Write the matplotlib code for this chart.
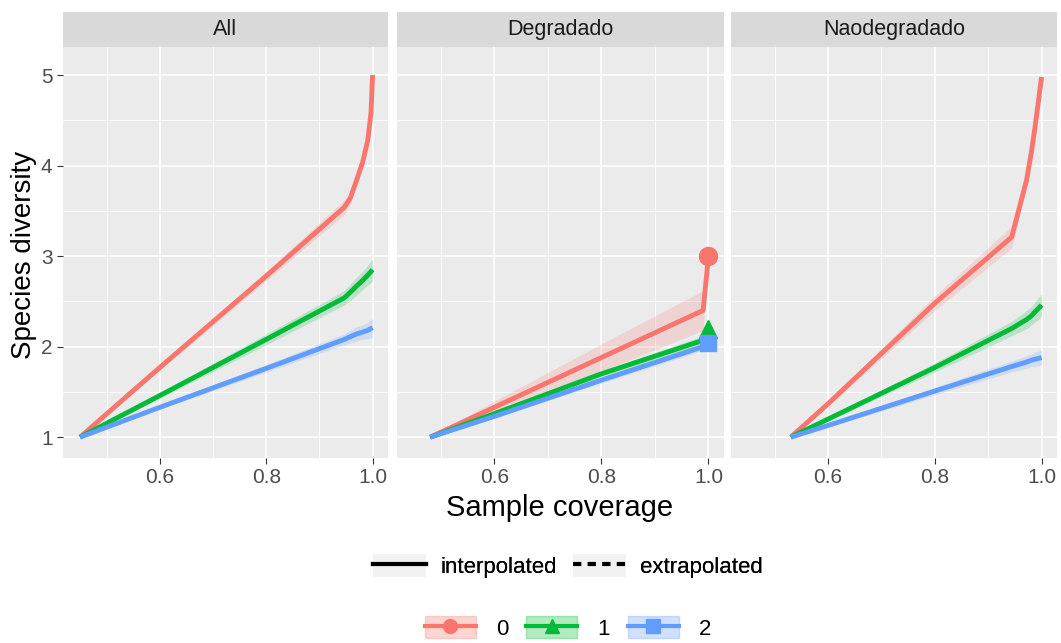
import matplotlib
matplotlib.use("Agg")
import matplotlib.pyplot as plt
from matplotlib.lines import Line2D
from matplotlib.patches import Patch

plt.rcParams['font.family'] = ['Liberation Sans', 'DejaVu Sans']

panels = ["All", "Degradado", "Naodegradado"]
orders = ["0", "1", "2"]
colors = ["#F8766D", "#00BA38", "#619CFF"]
marker_styles = ["o", "^", "s"]

# coverage values per panel
x_all = [0.45, 0.60, 0.80, 0.947, 0.958, 0.970, 0.981, 0.991, 0.997, 1.0]
x_deg = [0.48, 0.60, 0.80, 0.99, 1.0]
x_nao = [0.53, 0.60, 0.80, 0.944, 0.972, 0.981, 0.987, 0.994, 1.0]

# diversity estimates (order 0, 1, 2)
all_q0 = [1.0, 1.77, 2.78, 3.54, 3.64, 3.84, 4.03, 4.28, 4.58, 5.0]
all_q1 = [1.0, 1.46, 2.08, 2.54, 2.60, 2.67, 2.73, 2.79, 2.83, 2.85]
all_q2 = [1.0, 1.33, 1.76, 2.08, 2.11, 2.14, 2.16, 2.18, 2.20, 2.21]
deg_q0 = [1.0, 1.33, 1.88, 2.40, 3.0]
deg_q1 = [1.0, 1.26, 1.70, 2.07, 2.2]
deg_q2 = [1.0, 1.23, 1.63, 2.00, 2.04]
nao_q0 = [1.0, 1.37, 2.48, 3.21, 3.84, 4.15, 4.39, 4.70, 4.98]
nao_q1 = [1.0, 1.20, 1.77, 2.20, 2.30, 2.34, 2.38, 2.42, 2.46]
nao_q2 = [1.0, 1.13, 1.51, 1.78, 1.83, 1.85, 1.86, 1.87, 1.88]

# half widths of confidence bands
all_ci0 = [0.0, 0.03, 0.05, 0.08, 0.06, 0.05, 0.04, 0.03, 0.03, 0.02]
all_ci1 = [0.0, 0.03, 0.06, 0.08, 0.09, 0.10, 0.10, 0.11, 0.12, 0.12]
all_ci2 = [0.0, 0.02, 0.04, 0.06, 0.07, 0.08, 0.08, 0.09, 0.10, 0.10]
deg_ci0 = [0.0, 0.07, 0.15, 0.22, 0.0]
deg_ci1 = [0.0, 0.02, 0.03, 0.05, 0.0]
deg_ci2 = [0.0, 0.02, 0.03, 0.04, 0.0]
nao_ci0 = [0.0, 0.03, 0.08, 0.12, 0.06, 0.05, 0.04, 0.03, 0.03]
nao_ci1 = [0.0, 0.02, 0.05, 0.08, 0.10, 0.10, 0.11, 0.12, 0.12]
nao_ci2 = [0.0, 0.02, 0.04, 0.06, 0.07, 0.07, 0.08, 0.08, 0.08]

data = {
    "All": (x_all, [all_q0, all_q1, all_q2], [all_ci0, all_ci1, all_ci2]),
    "Degradado": (x_deg, [deg_q0, deg_q1, deg_q2], [deg_ci0, deg_ci1, deg_ci2]),
    "Naodegradado": (x_nao, [nao_q0, nao_q1, nao_q2], [nao_ci0, nao_ci1, nao_ci2]),
}

W, H = 1061, 643
fig = plt.figure(figsize=(W / 100, H / 100), dpi=100)

# panel extents in pixels: left, right
boxes = [(63, 388), (397, 724), (731, 1057)]
top, bottom, strip_top = 47, 458, 12

for i, name in enumerate(panels):
    l, r = boxes[i]
    ax = fig.add_axes([l / W, (H - bottom) / H, (r - l) / W, (bottom - top) / H])
    ax.set_facecolor("#EBEBEB")
    for s in ax.spines.values():
        s.set_visible(False)
    ax.set_xlim(0.418, 1.029)
    ax.set_ylim(0.77, 5.31)
    ax.set_xticks([0.6, 0.8, 1.0])
    ax.set_xticklabels(["0.6", "0.8", "1.0"])
    ax.set_xticks([0.5, 0.7, 0.9], minor=True)
    ax.set_yticks([1, 2, 3, 4, 5])
    ax.set_yticks([1.5, 2.5, 3.5, 4.5], minor=True)
    ax.grid(True, which="major", color="white", lw=1.1)
    ax.grid(True, which="minor", color="white", lw=0.55)
    ax.set_axisbelow(True)
    ax.tick_params(which="major", length=4, color="#333333", labelsize=15, labelcolor="#4D4D4D")
    ax.tick_params(which="minor", length=0)
    if i > 0:
        ax.tick_params(axis="y", labelleft=False, length=0)

    x, ys, cis = data[name]
    for k in range(3):
        y = ys[k]
        lo = [a - b for a, b in zip(y, cis[k])]
        hi = [a + b for a, b in zip(y, cis[k])]
        ax.fill_between(x, lo, hi, color=colors[k], alpha=0.2, lw=0)
    for k in range(3):
        ax.plot(x, ys[k], color=colors[k], lw=3.5, solid_capstyle="butt", zorder=3)
    if name == "Degradado":
        for k in range(3):
            ax.plot(x[-1], ys[k][-1], marker=marker_styles[k], color=colors[k],
                    ms=13 if k < 2 else 11, zorder=4, ls="none")

    sax = fig.add_axes([l / W, (H - top) / H, (r - l) / W, (top - strip_top) / H])
    sax.set_facecolor("#D9D9D9")
    sax.set_xticks([])
    sax.set_yticks([])
    for s in sax.spines.values():
        s.set_visible(False)
    sax.text(0.5, 0.5, name, ha="center", va="center", fontsize=15.5, color="#1A1A1A",
             transform=sax.transAxes)

fig.text(560 / W, 1 - 508 / H, "Sample coverage", ha="center", va="center", fontsize=21)
fig.text(24 / W, 1 - 255 / H, "Species diversity", ha="center", va="center", fontsize=20,
         rotation=90)

key_bg = "#F2F2F2"
h1 = [(Patch(facecolor=key_bg, edgecolor="none"), Line2D([], [], color="black", lw=3)),
      (Patch(facecolor=key_bg, edgecolor="none"), Line2D([], [], color="black", lw=3, ls=(0, (2, 1.5))))]
leg1 = fig.legend(h1, ["interpolated", "extrapolated"], loc="center", ncol=2,
                  bbox_to_anchor=(568 / W, 1 - 566 / H), frameon=False, fontsize=16,
                  handlelength=2.4, handleheight=1.2, handletextpad=0.65, columnspacing=0.7)
fig.add_artist(leg1)

h2 = []
for k in range(3):
    h2.append((Patch(facecolor=colors[k], alpha=0.3, edgecolor=colors[k]),
               Line2D([], [], color=colors[k], lw=3, marker=marker_styles[k], ms=10)))
fig.legend(h2, orders, loc="center", ncol=3, bbox_to_anchor=(568 / W, 1 - 628 / H),
           frameon=False, fontsize=16, handlelength=2.3, handleheight=1.15,
           handletextpad=0.9, columnspacing=0.8)

fig.savefig("out.png", dpi=100)
